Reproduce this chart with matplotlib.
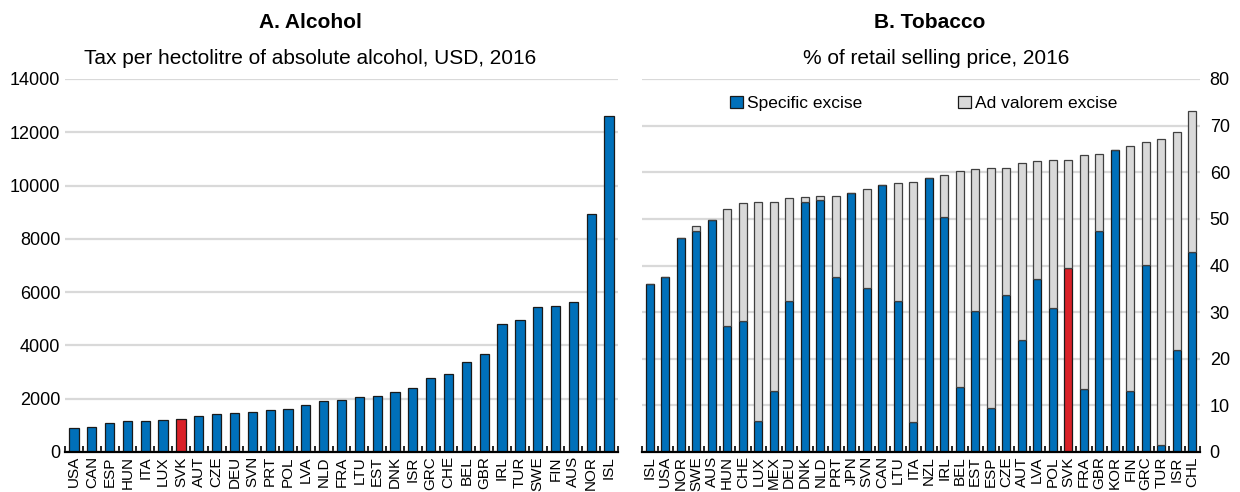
import matplotlib
matplotlib.use("Agg")
import matplotlib.pyplot as plt
from matplotlib.ticker import FixedLocator, MultipleLocator
import numpy as np

# Panel A: alcohol excise
alc_countries = ["USA", "CAN", "ESP", "HUN", "ITA", "LUX", "SVK", "AUT", "CZE", "DEU",
                 "SVN", "PRT", "POL", "LVA", "NLD", "FRA", "LTU", "EST", "DNK", "ISR",
                 "GRC", "CHE", "BEL", "GBR", "IRL", "TUR", "SWE", "FIN", "AUS", "NOR", "ISL"]
alc_tax = [900, 920, 1085, 1160, 1170, 1185, 1220, 1350, 1410, 1470,
           1500, 1560, 1630, 1760, 1900, 1970, 2070, 2110, 2260, 2410,
           2760, 2930, 3370, 3690, 4790, 4940, 5450, 5470, 5620, 8920, 12630]

# Panel B: tobacco excise
tob_countries = ["ISL", "USA", "NOR", "SWE", "AUS", "HUN", "CHE", "LUX", "MEX", "DEU",
                 "DNK", "NLD", "PRT", "JPN", "SVN", "CAN", "LTU", "ITA", "NZL", "IRL",
                 "BEL", "EST", "ESP", "CZE", "AUT", "LVA", "POL", "SVK", "FRA", "GBR",
                 "KOR", "FIN", "GRC", "TUR", "ISR", "CHL"]
tob_specific = [36.0, 37.6, 46.0, 47.3, 49.7, 27.0, 28.2, 6.6, 13.1, 32.4,
                53.7, 54.0, 37.6, 55.6, 35.1, 57.3, 32.4, 6.4, 58.8, 50.3,
                14.0, 30.3, 9.4, 33.7, 24.1, 37.2, 30.9, 39.4, 13.5, 47.3,
                64.8, 13.1, 40.1, 1.4, 21.9, 42.9]
tob_total = [36.0, 37.6, 46.0, 48.4, 49.7, 52.2, 53.4, 53.7, 53.7, 54.5,
             54.7, 54.8, 54.8, 55.6, 56.5, 57.3, 57.6, 57.9, 58.8, 59.5,
             60.2, 60.6, 61.0, 61.0, 61.9, 62.5, 62.6, 62.6, 63.6, 63.9,
             64.8, 65.6, 66.4, 67.2, 68.6, 73.2]
tob_advalorem = [t - s for t, s in zip(tob_total, tob_specific)]

highlight = "SVK"

BLUE = "#0070BA"
RED = "#DA2128"
GREY = "#D9D9D9"
GRID = "#D9D9D9"

plt.rcParams["font.family"] = ["Liberation Sans", "DejaVu Sans"]

fig = plt.figure(figsize=(12.4, 4.92), dpi=100)
axA = fig.add_axes([65 / 1240, 1 - 452 / 492, 553 / 1240, 373 / 492])
axB = fig.add_axes([642 / 1240, 1 - 452 / 492, 558 / 1240, 373 / 492])


def style_axis(ax, n, labels):
    for s in ("top", "left", "right"):
        ax.spines[s].set_visible(False)
    ax.spines["bottom"].set_linewidth(1.6)
    ax.spines["bottom"].set_zorder(5)
    ax.set_xlim(-0.5, n - 0.5)
    ax.set_xticks(np.arange(n))
    ax.set_xticklabels(labels, rotation=90, fontsize=11)
    ax.xaxis.set_minor_locator(FixedLocator(np.arange(n + 1) - 0.5))
    ax.tick_params(axis="x", which="major", length=0, pad=3)
    ax.tick_params(axis="x", which="minor", direction="in", length=4, width=1.2)
    ax.tick_params(axis="y", length=0, labelsize=13)
    ax.grid(axis="y", color=GRID, linewidth=1.6)
    ax.set_axisbelow(True)


# Alcohol
xa = np.arange(len(alc_countries))
colA = [RED if c == highlight else BLUE for c in alc_countries]
axA.bar(xa, alc_tax, width=0.52, color=colA, edgecolor="#1a1a1a", linewidth=0.9, zorder=3)
axA.set_ylim(0, 14000)
axA.yaxis.set_major_locator(MultipleLocator(2000))
style_axis(axA, len(alc_countries), alc_countries)

# Tobacco
xb = np.arange(len(tob_countries))
colB = [RED if c == highlight else BLUE for c in tob_countries]
axB.bar(xb, tob_specific, width=0.5, color=colB, edgecolor="#1a1a1a", linewidth=0.9,
        zorder=3, label="Specific excise")
axB.bar(xb, tob_advalorem, bottom=tob_specific, width=0.5, color=GREY, edgecolor="#404040",
        linewidth=0.9, zorder=3, label="Ad valorem excise")
axB.set_ylim(0, 80)
axB.yaxis.set_major_locator(MultipleLocator(10))
axB.yaxis.tick_right()
style_axis(axB, len(tob_countries), tob_countries)
axB.tick_params(axis="y", pad=7)
leg = axB.legend(loc="center", bbox_to_anchor=(0.505, 0.935), ncol=2, frameon=False,
                 fontsize=12.5, handlelength=0.75, handleheight=0.75, handletextpad=0.25,
                 columnspacing=5.5)
for h in leg.legend_handles:
    h.set_edgecolor("#1a1a1a")

# Titles
fig.text(0.25, 1 - 22 / 492, "A. Alcohol", ha="center", va="center", fontsize=15, fontweight="bold")
fig.text(0.25, 1 - 58 / 492, "Tax per hectolitre of absolute alcohol, USD, 2016",
         ha="center", va="center", fontsize=15)
fig.text(0.75, 1 - 22 / 492, "B. Tobacco", ha="center", va="center", fontsize=15, fontweight="bold")
fig.text(0.755, 1 - 58 / 492, "% of retail selling price, 2016", ha="center", va="center", fontsize=15)

fig.savefig("out.png", dpi=100)
